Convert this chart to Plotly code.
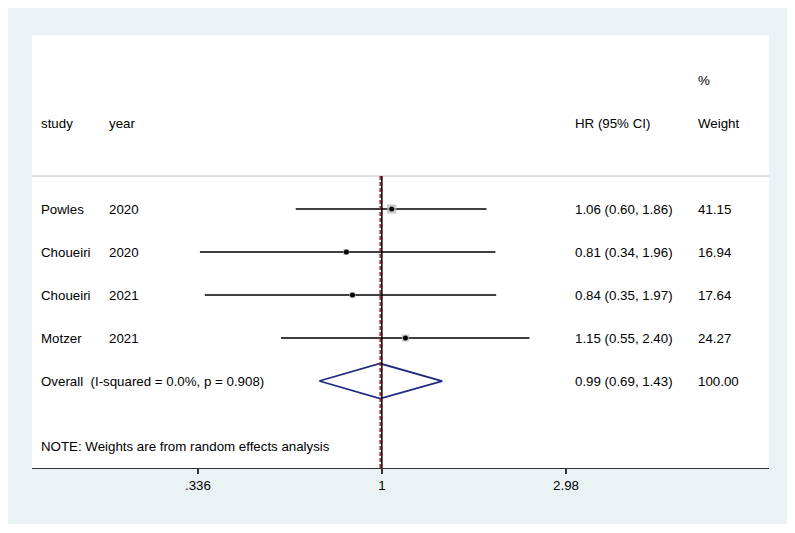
import plotly.graph_objects as go
import math

# ---- data ----
studies = ["Powles", "Choueiri", "Choueiri", "Motzer"]
years = ["2020", "2020", "2021", "2021"]
hr = [1.06, 0.81, 0.84, 1.15]
lo = [0.60, 0.34, 0.35, 0.55]
hi = [1.86, 1.96, 1.97, 2.40]
weights = [41.15, 16.94, 17.64, 24.27]
hr_text = ["1.06 (0.60, 1.86)", "0.81 (0.34, 1.96)", "0.84 (0.35, 1.97)", "1.15 (0.55, 2.40)"]
weight_text = ["41.15", "16.94", "17.64", "24.27"]

overall_label = "Overall\u00a0\u00a0(I-squared = 0.0%, p = 0.908)"
overall_hr, overall_lo, overall_hi = 0.99, 0.69, 1.43
overall_hr_text = "0.99 (0.69, 1.43)"
overall_weight_text = "100.00"
note_text = "NOTE: Weights are from random effects analysis"

tick_vals = [0.336, 1, 2.98]
tick_text = [".336", "1", "2.98"]

# ---- layout geometry (figure placed at 8,8 by page margin) ----
W, H = 779, 516
L, R, T, B = 24, 761, 27, 460
FONT = "Liberation Sans, Arial, sans-serif"
FS = 13.3

rows = list(range(len(studies)))
overall_row = len(studies)
header_row = -2
pct_row = -3
sep_row = -0.767
note_row = 5.53
ymin, ymax = 6.023, -4.0465

def px(xp):
    return (xp - 8 - L) / (R - L)

fig = go.Figure()

# CI lines
for i in rows:
    fig.add_trace(go.Scatter(x=[lo[i], hi[i]], y=[i, i], mode="lines",
                             line=dict(color="black", width=1.5),
                             hoverinfo="skip", showlegend=False))
# weight boxes
fig.add_trace(go.Scatter(x=hr, y=rows, mode="markers",
                         marker=dict(symbol="square", color="#b8b8b8",
                                     size=[1.45 * math.sqrt(w) for w in weights],
                                     line=dict(width=0)),
                         hoverinfo="skip", showlegend=False))
# point estimates
fig.add_trace(go.Scatter(x=hr, y=rows, mode="markers",
                         marker=dict(symbol="circle", color="black", size=5),
                         hoverinfo="skip", showlegend=False))
# diamond
dh = 17.5 / 43
fig.add_trace(go.Scatter(
    x=[overall_lo, overall_hr, overall_hi, overall_hr, overall_lo],
    y=[overall_row, overall_row - dh, overall_row, overall_row + dh, overall_row],
    mode="lines", line=dict(color="#1f2a80", width=1.8),
    hoverinfo="skip", showlegend=False))

shapes = [
    # header separator
    dict(type="line", xref="paper", yref="y", x0=0, x1=1, y0=sep_row, y1=sep_row,
         line=dict(color="#c0c0c0", width=1)),
    # null line
    dict(type="line", xref="x", yref="y", x0=1, x1=1, y0=sep_row, y1=ymin,
         line=dict(color="black", width=1.5)),
    # overall effect line
    dict(type="line", xref="x", yref="y", x0=overall_hr, x1=overall_hr, y0=sep_row, y1=ymin,
         line=dict(color="#a8202a", width=1.5, dash="4px,2px")),
]

ann = []
def add_text(x, y, text):
    ann.append(dict(x=x, y=y, xref="paper", yref="y", text=text, showarrow=False,
                    xanchor="left", yanchor="middle",
                    font=dict(family=FONT, size=FS, color="black")))

col_study, col_year, col_hr, col_w = px(39), px(107), px(573), px(696)

add_text(col_study, header_row, "study")
add_text(col_year, header_row, "year")
add_text(col_hr, header_row, "HR (95% CI)")
add_text(col_w, header_row, "Weight")
add_text(col_w, pct_row, "%")

for i in rows:
    add_text(col_study, i, studies[i])
    add_text(col_year, i, years[i])
    add_text(col_hr, i, hr_text[i])
    add_text(col_w, i, weight_text[i])

add_text(col_study, overall_row, overall_label)
add_text(col_hr, overall_row, overall_hr_text)
add_text(col_w, overall_row, overall_weight_text)
add_text(col_study, note_row, note_text)

lx0 = -0.901
lx1 = 0.997

fig.update_layout(
    width=W, height=H,
    margin=dict(l=L, r=W - R, t=T, b=H - B, pad=0),
    paper_bgcolor="#eaf2f3", plot_bgcolor="white",
    shapes=shapes, annotations=ann,
    font=dict(family=FONT, size=FS, color="black"),
    xaxis=dict(type="log", range=[lx0, lx1], tickvals=tick_vals, ticktext=tick_text,
               showgrid=False, zeroline=False, showline=True, linecolor="#333333",
               linewidth=1, ticks="outside", ticklen=5, tickwidth=1.5, tickcolor="#333333",
               tickfont=dict(family=FONT, size=FS, color="black"), fixedrange=True),
    yaxis=dict(range=[ymin, ymax], showgrid=False, zeroline=False, showline=False,
               showticklabels=False, ticks="", fixedrange=True),
    showlegend=False,
)

fig.write_html("out.html")
